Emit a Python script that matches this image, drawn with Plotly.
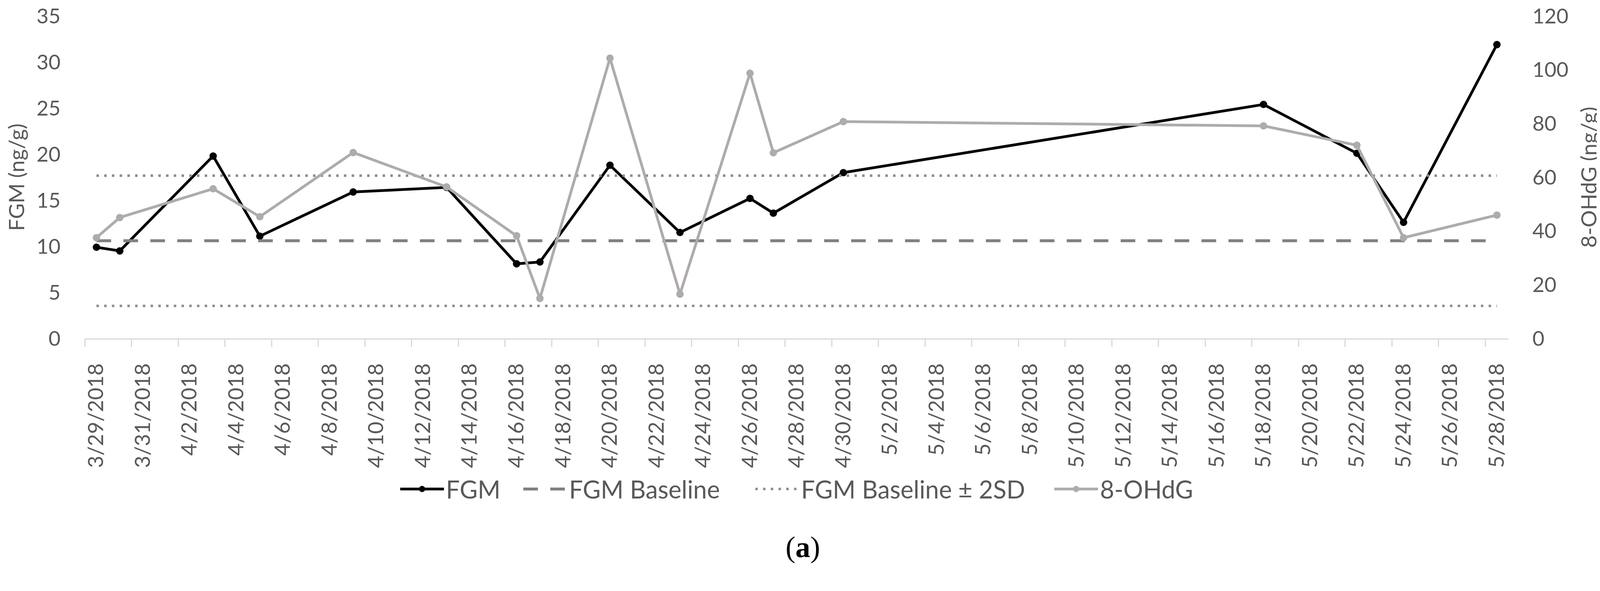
import plotly.graph_objects as go
import pandas as pd

# ---- data ----
dates = ["2018-03-29", "2018-03-30", "2018-04-03", "2018-04-05", "2018-04-09",
         "2018-04-13", "2018-04-16", "2018-04-17", "2018-04-20", "2018-04-23",
         "2018-04-26", "2018-04-27", "2018-04-30", "2018-05-18", "2018-05-22",
         "2018-05-24", "2018-05-28"]
fgm = [9.9, 9.5, 19.8, 11.1, 15.9, 16.4, 8.1, 8.3, 18.8, 11.5, 15.2, 13.6,
       18.0, 25.4, 20.1, 12.6, 31.9]
ohdg = [37.5, 45.0, 55.7, 45.3, 69.2, 56.4, 38.2, 14.9, 104.3, 16.5, 98.7,
        69.1, 80.7, 79.1, 71.9, 37.5, 45.9]
fgm_baseline = 10.6
fgm_2sd = 7.07

tick_dates = pd.date_range("2018-03-29", "2018-05-28", freq="2D")
tick_labels = [f"{d.month}/{d.day}/{d.year}" for d in tick_dates]

series_names = ["FGM", "FGM Baseline", "FGM Baseline \u00b1 2SD", "8-OHdG"]

# ---- styles ----
FONT = "Lato"
TXT = "#595959"
TICK = 53
PAD = "\u00a0" * 5

fig = go.Figure()

fig.add_trace(go.Scatter(
    x=dates, y=fgm, name=series_names[0] + "\u00a0" * 3, mode="lines+markers",
    line=dict(color="#000000", width=7),
    marker=dict(color="#000000", size=19, symbol="circle"),
    yaxis="y"))

base_x = [dates[0], dates[-1]]
fig.add_trace(go.Scatter(
    x=base_x, y=[fgm_baseline, fgm_baseline], name=series_names[1] + PAD,
    mode="lines",
    line=dict(color="#808080", width=7.5, dash="37.5px,31.5px"), yaxis="y"))

fig.add_trace(go.Scatter(
    x=base_x + [None] + base_x,
    y=[fgm_baseline + fgm_2sd, fgm_baseline + fgm_2sd, None,
       fgm_baseline - fgm_2sd, fgm_baseline - fgm_2sd],
    name=series_names[2] + "\u00a0" * 4, mode="lines", connectgaps=False,
    line=dict(color="#8C8C8C", width=6.3, dash="6.3px,13.5px"), yaxis="y"))

fig.add_trace(go.Scatter(
    x=dates, y=ohdg, name=series_names[3], mode="lines+markers",
    line=dict(color="#AFABAB", width=7),
    marker=dict(color="#AFABAB", size=19, symbol="circle"),
    yaxis="y2"))

fig.update_layout(
    width=4110, height=1450,
    margin=dict(l=209, r=256, t=33, b=591, autoexpand=False),
    paper_bgcolor="white", plot_bgcolor="white",
    font=dict(family=FONT, size=TICK, color=TXT),
    showlegend=True,
    legend=dict(orientation="h", x=0.5, xanchor="center",
                y=-0.467, yanchor="middle",
                font=dict(family=FONT, size=63, color=TXT),
                itemwidth=112, traceorder="normal"),
    xaxis=dict(
        type="date",
        range=["2018-03-28 12:00", "2018-05-28 12:00"],
        tickmode="array", tickvals=list(tick_dates), ticktext=tick_labels,
        tickangle=-90, ticks="", ticklabelstandoff=39,
        ticklabeloverflow="allow",
        tickfont=dict(family=FONT, size=54, color=TXT),
        showline=True, linecolor="#D9D9D9", linewidth=3,
        showgrid=False, zeroline=False, automargin=False,
        minor=dict(ticks="outside", ticklen=19, tickwidth=3, tickcolor="#D9D9D9",
                   tickmode="linear", tick0="2018-03-28 12:00",
                   dtick=2 * 86400000, showgrid=False),
    ),
    yaxis=dict(
        range=[0, 35], dtick=5, tick0=0, showgrid=False, zeroline=False,
        showline=False, ticks="", ticklabelstandoff=61, automargin=False,
        ticklabeloverflow="allow",
        tickfont=dict(family=FONT, size=TICK, color=TXT),
        title=dict(text="FGM (ng/g)", standoff=20,
                   font=dict(family=FONT, size=55, color=TXT)),
    ),
    yaxis2=dict(
        range=[0, 120], dtick=20, tick0=0, overlaying="y", side="right",
        showgrid=False, zeroline=False, showline=False, ticks="",
        ticklabelstandoff=60, automargin=False,
        ticklabeloverflow="allow",
        tickfont=dict(family=FONT, size=TICK, color=TXT),
        title=dict(text="8-OHdG (ng/g)", standoff=34,
                   font=dict(family=FONT, size=55, color=TXT)),
    ),
    annotations=[dict(text="(<b>a</b>)", x=0.5043, y=-0.647,
                      xref="paper", yref="paper", showarrow=False,
                      xanchor="center", yanchor="middle",
                      font=dict(family="Liberation Serif", size=76, color="#000000"))],
)

fig.write_html("out.html")
